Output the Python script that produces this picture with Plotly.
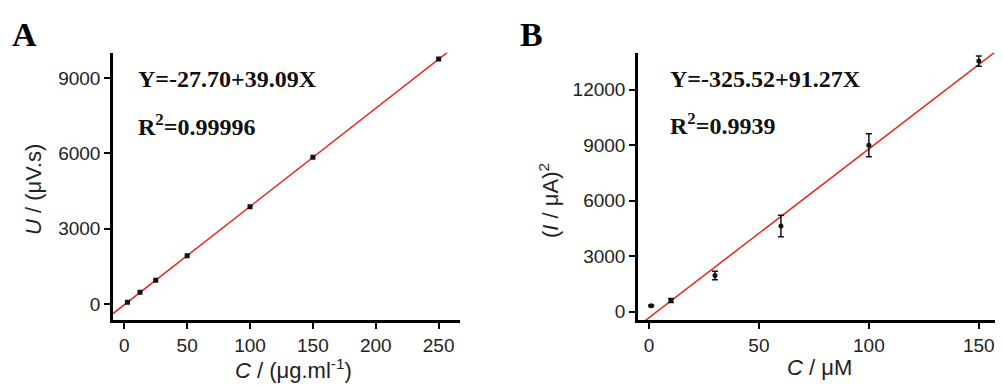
import plotly.graph_objects as go
import numpy as np

# Panel A data
conc_a = [2.5, 12.5, 25, 50, 100, 150, 250]
signal_a = [75, 470, 950, 1925, 3870, 5840, 9750]
fit_a_intercept, fit_a_slope = -27.70, 39.09

# Panel B data
conc_b = [1, 10, 30, 60, 100, 150]
signal_b = [320, 600, 1950, 4630, 9000, 13550]
err_b = [40, 110, 230, 580, 620, 280]
fit_b_intercept, fit_b_slope = -325.52, 91.27

xticks_a = [0, 50, 100, 150, 200, 250]
yticks_a = [0, 3000, 6000, 9000]
xticks_b = [0, 50, 100, 150]
yticks_b = [0, 3000, 6000, 9000, 12000]

xr_a = [-9, 267]
yr_a = [-650, 10000]
xr_b = [-5, 161]
yr_b = [-470, 14000]

# page has an 8px body margin; figure occupies page 8..1003 x 8..389
W, H, OFF = 995, 381, 8


def px(xp):
    return (xp - OFF) / W


def py(yp):
    return 1 - (yp - OFF) / H


fig = go.Figure()

# Panel A
fx = np.array(xr_a)
fig.add_trace(go.Scatter(x=fx, y=fit_a_intercept + fit_a_slope * fx, mode="lines",
                         line=dict(color="#e8251f", width=1.5), xaxis="x", yaxis="y",
                         showlegend=False, hoverinfo="skip"))
fig.add_trace(go.Scatter(x=conc_a, y=signal_a, mode="markers",
                         marker=dict(symbol="square", size=5, color="#111"),
                         xaxis="x", yaxis="y", showlegend=False))

# Panel B
fxb = np.array(xr_b)
fig.add_trace(go.Scatter(x=fxb, y=fit_b_intercept + fit_b_slope * fxb, mode="lines",
                         line=dict(color="#e8251f", width=1.5), xaxis="x2", yaxis="y2",
                         showlegend=False, hoverinfo="skip"))
fig.add_trace(go.Scatter(x=conc_b, y=signal_b, mode="markers",
                         marker=dict(symbol="circle", size=5, color="#111"),
                         error_y=dict(type="data", array=err_b, visible=True,
                                      color="#111", thickness=1.5, width=3),
                         xaxis="x2", yaxis="y2", showlegend=False))

axis_common = dict(showline=True, linecolor="black", linewidth=2.5, ticks="outside",
                   ticklen=6, tickwidth=2, tickcolor="black", showgrid=False,
                   zeroline=False, mirror=False, tickformat="d",
                   tickfont=dict(family="Liberation Sans, Arial", size=19, color="#222"))

fig.update_layout(
    width=W, height=H,
    margin=dict(l=0, r=0, t=0, b=0),
    plot_bgcolor="white", paper_bgcolor="white",
    xaxis=dict(domain=[px(113), px(460)], range=xr_a, tickvals=xticks_a, anchor="y", **axis_common),
    yaxis=dict(domain=[py(322), py(53)], range=yr_a, tickvals=yticks_a, anchor="x", **axis_common),
    xaxis2=dict(domain=[px(638), 1.0], range=xr_b, tickvals=xticks_b, anchor="y2", **axis_common),
    yaxis2=dict(domain=[py(322), py(53)], range=yr_b, tickvals=yticks_b, anchor="x2", **axis_common),
)

serif = "Liberation Serif, Times New Roman"
sans = "Liberation Sans, Arial"
ann = []
# panel letters
ann.append(dict(x=10, y=35, text="<b>A</b>", font=dict(family=serif, size=34, color="black")))
ann.append(dict(x=518, y=35, text="<b>B</b>", font=dict(family=serif, size=34, color="black")))
# equations
ann.append(dict(x=136, y=79, text="<b>Y=-27.70+39.09X</b>", font=dict(family=serif, size=24, color="#111")))
ann.append(dict(x=136, y=126, text="<b>R<sup>2</sup>=0.99996</b>", font=dict(family=serif, size=24, color="#111")))
ann.append(dict(x=668, y=79, text="<b>Y=-325.52+91.27X</b>", font=dict(family=serif, size=24, color="#111")))
ann.append(dict(x=668, y=125, text="<b>R<sup>2</sup>=0.9939</b>", font=dict(family=serif, size=24, color="#111")))
for a in ann:
    a.update(xref="paper", yref="paper", xanchor="left", yanchor="middle", showarrow=False)
    a["x"] = px(a["x"])
    a["y"] = py(a["y"])

titles = [
    dict(x=293, y=371, text="<i>C</i> / (μg.ml<sup>-1</sup>)", textangle=0),
    dict(x=33, y=191, text="<i>U</i> / (μV.s)", textangle=-90),
    dict(x=819, y=369, text="<i>C</i> / μM", textangle=0),
    dict(x=549, y=202, text="(<i>I</i> / μA)<sup>2</sup>", textangle=-90),
]
for t in titles:
    t.update(xref="paper", yref="paper", xanchor="center", yanchor="middle", showarrow=False,
             font=dict(family=sans, size=22, color="#222"))
    t["x"] = px(t["x"])
    t["y"] = py(t["y"])
ann.extend(titles)
fig.update_layout(annotations=ann)

fig.write_html("out.html")
